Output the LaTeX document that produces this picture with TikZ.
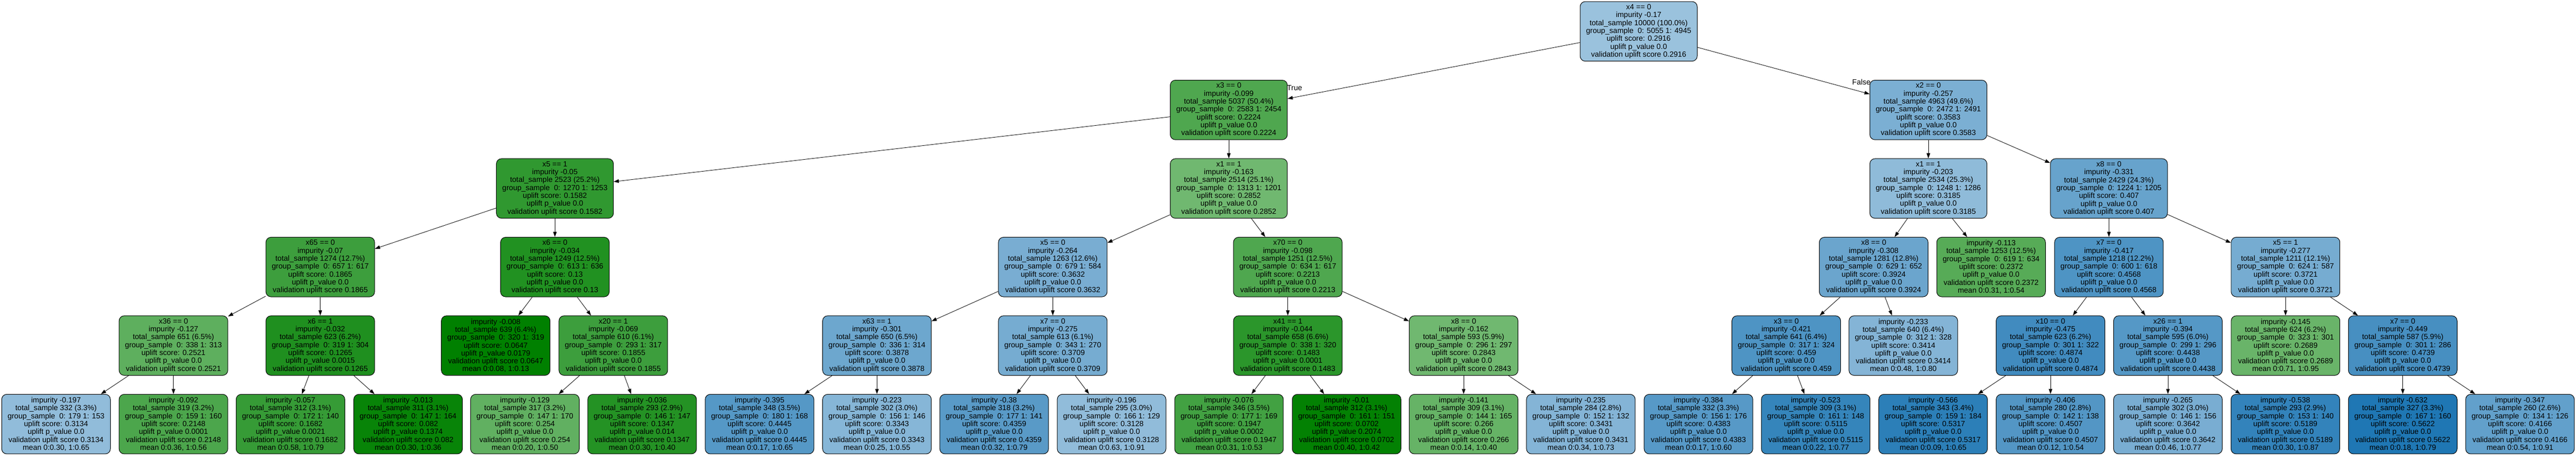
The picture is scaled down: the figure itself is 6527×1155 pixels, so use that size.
\documentclass[tikz,border=0pt]{standalone}
\usepackage{fontspec}
\setmainfont{Liberation Sans}
\usepackage{tikz}
\usetikzlibrary{arrows.meta, positioning}

\definecolor{upblue}{HTML}{1F77B4}
\definecolor{upgreen}{HTML}{008000}

\newcommand{\splitinfo}[6]{#1\\impurity #2\\total\_sample #3\\group\_sample\ \ #4\\uplift score: #5\\uplift p\_value #6\\validation uplift score #5}
\newcommand{\leafinfo}[6]{impurity #1\\total\_sample #2\\group\_sample\ \ #3\\uplift score: #4\\uplift p\_value #5\\validation uplift score #4\\mean #6}

\begin{document}
\begin{tikzpicture}[
        x=1pt, y=-1pt,
        node distance=199pt,
        treenode/.style={rectangle, rounded corners=13pt, draw=black, line width=1.3pt,
                        minimum width=272pt, minimum height=151pt, inner xsep=15pt,
                        align=center, font=\fontsize{19}{20}\selectfont},
        bluenode/.style={treenode, fill=upblue!#1!white},
        greennode/.style={treenode, fill=upgreen!#1!white},
        lbl/.style={inner sep=0pt, font=\fontsize{19}{20}\selectfont},
        arrow/.style={line width=1.1pt, -{Triangle[length=13pt, width=9pt]}}
    ]
        \useasboundingbox (0,0) rectangle (6527,1155);

        \node[bluenode=45] (x4) at (4152,79.5) {\splitinfo{x4 == 0}{-0.17}{10000 (100.0\%)}{0: 5055 1: 4945}{0.2916}{0.0}};

        \node[greennode=69, below of=x4, xshift=-1038.5pt] (x3) {\splitinfo{x3 == 0}{-0.099}{5037 (50.4\%)}{0: 2583 1: 2454}{0.2224}{0.0}};
        \node[bluenode=59, below of=x4, xshift=734pt] (x2) {\splitinfo{x2 == 0}{-0.257}{4963 (49.6\%)}{0: 2472 1: 2491}{0.3583}{0.0}};

        \node[greennode=81, below of=x3, xshift=-1707.5pt] (x5a) {\splitinfo{x5 == 1}{-0.05}{2523 (25.2\%)}{0: 1270 1: 1253}{0.1582}{0.0}};
        \node[greennode=56, below of=x3] (x1a) {\splitinfo{x1 == 1}{-0.163}{2514 (25.1\%)}{0: 1313 1: 1201}{0.2852}{0.0}};
        \node[bluenode=50, below of=x2] (x1b) {\splitinfo{x1 == 1}{-0.203}{2534 (25.3\%)}{0: 1248 1: 1286}{0.3185}{0.0}};
        \node[bluenode=68, below of=x2, xshift=457.5pt] (x8a) {\splitinfo{x8 == 0}{-0.331}{2429 (24.3\%)}{0: 1224 1: 1205}{0.407}{0.0}};

        \node[greennode=76, below of=x5a, xshift=-594.5pt] (x65) {\splitinfo{x65 == 0}{-0.07}{1274 (12.7\%)}{0: 657 1: 617}{0.1865}{0.0}};
        \node[greennode=87, below of=x5a] (x6a) {\splitinfo{x6 == 0}{-0.034}{1249 (12.5\%)}{0: 613 1: 636}{0.13}{0.0}};
        \node[bluenode=60, below of=x1a, xshift=-446pt] (x5b) {\splitinfo{x5 == 0}{-0.264}{1263 (12.6\%)}{0: 679 1: 584}{0.3632}{0.0}};
        \node[greennode=69, below of=x1a, xshift=149.5pt] (x70) {\splitinfo{x70 == 0}{-0.098}{1251 (12.5\%)}{0: 634 1: 617}{0.2213}{0.0}};
        \node[bluenode=66, below of=x1b, xshift=-138.5pt] (x8b) {\splitinfo{x8 == 0}{-0.308}{1281 (12.8\%)}{0: 629 1: 652}{0.3924}{0.0}};
        \node[greennode=66, below of=x1b, xshift=159pt] (lf113) {\leafinfo{-0.113}{1253 (12.5\%)}{0: 619 1: 634}{0.2372}{0.0}{0:0.31, 1:0.54}};
        \node[bluenode=79, below of=x8a] (x7a) {\splitinfo{x7 == 0}{-0.417}{1218 (12.2\%)}{0: 600 1: 618}{0.4568}{0.0}};
        \node[bluenode=61, below of=x8a, xshift=447.5pt] (x5c) {\splitinfo{x5 == 1}{-0.277}{1211 (12.1\%)}{0: 624 1: 587}{0.3721}{0.0}};

        \node[greennode=63, below of=x65, xshift=-372pt] (x36) {\splitinfo{x36 == 0}{-0.127}{651 (6.5\%)}{0: 338 1: 313}{0.2521}{0.0}};
        \node[greennode=88, below of=x65] (x6b) {\splitinfo{x6 == 1}{-0.032}{623 (6.2\%)}{0: 319 1: 304}{0.1265}{0.0015}};
        \node[greennode=100, below of=x6a, xshift=-150pt] (lf008) {\leafinfo{-0.008}{639 (6.4\%)}{0: 320 1: 319}{0.0647}{0.0179}{0:0.08, 1:0.13}};
        \node[greennode=76, below of=x6a, xshift=148pt] (x20) {\splitinfo{x20 == 1}{-0.069}{610 (6.1\%)}{0: 293 1: 317}{0.1855}{0.0}};
        \node[bluenode=65, below of=x5b, xshift=-445.5pt] (x63) {\splitinfo{x63 == 1}{-0.301}{650 (6.5\%)}{0: 336 1: 314}{0.3878}{0.0}};
        \node[bluenode=61, below of=x5b] (x7b) {\splitinfo{x7 == 0}{-0.275}{613 (6.1\%)}{0: 343 1: 270}{0.3709}{0.0}};
        \node[greennode=83, below of=x70] (x41) {\splitinfo{x41 == 1}{-0.044}{658 (6.6\%)}{0: 338 1: 320}{0.1483}{0.0001}};
        \node[greennode=56, below of=x70, xshift=445.5pt] (x8c) {\splitinfo{x8 == 0}{-0.162}{593 (5.9\%)}{0: 296 1: 297}{0.2843}{0.0}};
        \node[bluenode=79, below of=x8b, xshift=-221.5pt] (x3b) {\splitinfo{x3 == 0}{-0.421}{641 (6.4\%)}{0: 317 1: 324}{0.459}{0.0}};
        \node[bluenode=55, below of=x8b, xshift=75pt] (lf233) {\leafinfo{-0.233}{640 (6.4\%)}{0: 312 1: 328}{0.3414}{0.0}{0:0.48, 1:0.80}};
        \node[bluenode=85, below of=x7a, xshift=-148pt] (x10) {\splitinfo{x10 == 0}{-0.475}{623 (6.2\%)}{0: 301 1: 322}{0.4874}{0.0}};
        \node[bluenode=76, below of=x7a, xshift=149.5pt] (x26) {\splitinfo{x26 == 1}{-0.394}{595 (6.0\%)}{0: 299 1: 296}{0.4438}{0.0}};
        \node[greennode=59, below of=x5c] (lf145) {\leafinfo{-0.145}{624 (6.2\%)}{0: 323 1: 301}{0.2689}{0.0}{0:0.71, 1:0.95}};
        \node[bluenode=82, below of=x5c, xshift=297pt] (x7c) {\splitinfo{x7 == 0}{-0.449}{587 (5.9\%)}{0: 301 1: 286}{0.4739}{0.0}};

        \node[bluenode=49, below of=x36, xshift=-297.5pt] (lf197) {\leafinfo{-0.197}{332 (3.3\%)}{0: 179 1: 153}{0.3134}{0.0}{0:0.30, 1:0.65}};
        \node[greennode=70, below of=x36] (lf092) {\leafinfo{-0.092}{319 (3.2\%)}{0: 159 1: 160}{0.2148}{0.0001}{0:0.36, 1:0.56}};
        \node[greennode=79, below of=x6b, xshift=-75.5pt] (lf057) {\leafinfo{-0.057}{312 (3.1\%)}{0: 172 1: 140}{0.1682}{0.0021}{0:0.58, 1:0.79}};
        \node[greennode=97, below of=x6b, xshift=222.5pt] (lf013) {\leafinfo{-0.013}{311 (3.1\%)}{0: 147 1: 164}{0.082}{0.1374}{0:0.30, 1:0.36}};
        \node[greennode=62, below of=x20, xshift=-224pt] (lf129) {\leafinfo{-0.129}{317 (3.2\%)}{0: 147 1: 170}{0.254}{0.0}{0:0.20, 1:0.50}};
        \node[greennode=86, below of=x20, xshift=73pt] (lf036) {\leafinfo{-0.036}{293 (2.9\%)}{0: 146 1: 147}{0.1347}{0.014}{0:0.30, 1:0.40}};
        \node[bluenode=76, below of=x63, xshift=-297.5pt] (lf395) {\leafinfo{-0.395}{348 (3.5\%)}{0: 180 1: 168}{0.4445}{0.0}{0:0.17, 1:0.65}};
        \node[bluenode=54, below of=x63] (lf223) {\leafinfo{-0.223}{302 (3.0\%)}{0: 156 1: 146}{0.3343}{0.0}{0:0.25, 1:0.55}};
        \node[bluenode=74, below of=x7b, xshift=-148.5pt] (lf380) {\leafinfo{-0.38}{318 (3.2\%)}{0: 177 1: 141}{0.4359}{0.0}{0:0.32, 1:0.79}};
        \node[bluenode=49, below of=x7b, xshift=149pt] (lf196) {\leafinfo{-0.196}{295 (3.0\%)}{0: 166 1: 129}{0.3128}{0.0}{0:0.63, 1:0.91}};
        \node[greennode=74, below of=x41, xshift=-149pt] (lf076) {\leafinfo{-0.076}{346 (3.5\%)}{0: 177 1: 169}{0.1947}{0.0002}{0:0.31, 1:0.53}};
        \node[greennode=99, below of=x41, xshift=149pt] (lf010) {\leafinfo{-0.01}{312 (3.1\%)}{0: 161 1: 151}{0.0702}{0.2074}{0:0.40, 1:0.42}};
        \node[greennode=60, below of=x8c] (lf141) {\leafinfo{-0.141}{309 (3.1\%)}{0: 144 1: 165}{0.266}{0.0}{0:0.14, 1:0.40}};
        \node[bluenode=55, below of=x8c, xshift=297pt] (lf235) {\leafinfo{-0.235}{284 (2.8\%)}{0: 152 1: 132}{0.3431}{0.0}{0:0.34, 1:0.73}};
        \node[bluenode=75, below of=x3b, xshift=-222.5pt] (lf384) {\leafinfo{-0.384}{332 (3.3\%)}{0: 156 1: 176}{0.4383}{0.0}{0:0.17, 1:0.60}};
        \node[bluenode=90, below of=x3b, xshift=74.5pt] (lf523) {\leafinfo{-0.523}{309 (3.1\%)}{0: 161 1: 148}{0.5115}{0.0}{0:0.22, 1:0.77}};
        \node[bluenode=94, below of=x10, xshift=-297.5pt] (lf566) {\leafinfo{-0.566}{343 (3.4\%)}{0: 159 1: 184}{0.5317}{0.0}{0:0.09, 1:0.65}};
        \node[bluenode=77, below of=x10] (lf406) {\leafinfo{-0.406}{280 (2.8\%)}{0: 142 1: 138}{0.4507}{0.0}{0:0.12, 1:0.54}};
        \node[bluenode=60, below of=x26] (lf265) {\leafinfo{-0.265}{302 (3.0\%)}{0: 146 1: 156}{0.3642}{0.0}{0:0.46, 1:0.77}};
        \node[bluenode=91, below of=x26, xshift=297.5pt] (lf538) {\leafinfo{-0.538}{293 (2.9\%)}{0: 153 1: 140}{0.5189}{0.0}{0:0.30, 1:0.87}};
        \node[bluenode=100, below of=x7c] (lf632) {\leafinfo{-0.632}{327 (3.3\%)}{0: 167 1: 160}{0.5622}{0.0}{0:0.18, 1:0.79}};
        \node[bluenode=70, below of=x7c, xshift=297pt] (lf347) {\leafinfo{-0.347}{260 (2.6\%)}{0: 134 1: 126}{0.4166}{0.0}{0:0.54, 1:0.91}};

        \draw[arrow] (x4) -- node[lbl, pos=1, anchor=west, xshift=-2pt, yshift=28pt] (truelbl) {True} (x3);
        \draw[arrow] (x4) -- node[lbl, pos=1, anchor=east, xshift=3pt, yshift=30pt] (falselbl) {False} (x2);

        \draw[arrow] (x3) -- (x5a);
        \draw[arrow] (x3) -- (x1a);
        \draw[arrow] (x2) -- (x1b);
        \draw[arrow] (x2) -- (x8a);

        \draw[arrow] (x5a) -- (x65);
        \draw[arrow] (x5a) -- (x6a);
        \draw[arrow] (x1a) -- (x5b);
        \draw[arrow] (x1a) -- (x70);
        \draw[arrow] (x1b) -- (x8b);
        \draw[arrow] (x1b) -- (lf113);
        \draw[arrow] (x8a) -- (x7a);
        \draw[arrow] (x8a) -- (x5c);

        \draw[arrow] (x65) -- (x36);
        \draw[arrow] (x65) -- (x6b);
        \draw[arrow] (x6a) -- (lf008);
        \draw[arrow] (x6a) -- (x20);
        \draw[arrow] (x5b) -- (x63);
        \draw[arrow] (x5b) -- (x7b);
        \draw[arrow] (x70) -- (x41);
        \draw[arrow] (x70) -- (x8c);
        \draw[arrow] (x8b) -- (x3b);
        \draw[arrow] (x8b) -- (lf233);
        \draw[arrow] (x7a) -- (x10);
        \draw[arrow] (x7a) -- (x26);
        \draw[arrow] (x5c) -- (lf145);
        \draw[arrow] (x5c) -- (x7c);

        \draw[arrow] (x36) -- (lf197);
        \draw[arrow] (x36) -- (lf092);
        \draw[arrow] (x6b) -- (lf057);
        \draw[arrow] (x6b) -- (lf013);
        \draw[arrow] (x20) -- (lf129);
        \draw[arrow] (x20) -- (lf036);
        \draw[arrow] (x63) -- (lf395);
        \draw[arrow] (x63) -- (lf223);
        \draw[arrow] (x7b) -- (lf380);
        \draw[arrow] (x7b) -- (lf196);
        \draw[arrow] (x41) -- (lf076);
        \draw[arrow] (x41) -- (lf010);
        \draw[arrow] (x8c) -- (lf141);
        \draw[arrow] (x8c) -- (lf235);
        \draw[arrow] (x3b) -- (lf384);
        \draw[arrow] (x3b) -- (lf523);
        \draw[arrow] (x10) -- (lf566);
        \draw[arrow] (x10) -- (lf406);
        \draw[arrow] (x26) -- (lf265);
        \draw[arrow] (x26) -- (lf538);
        \draw[arrow] (x7c) -- (lf632);
        \draw[arrow] (x7c) -- (lf347);
    \end{tikzpicture}
\end{document}
